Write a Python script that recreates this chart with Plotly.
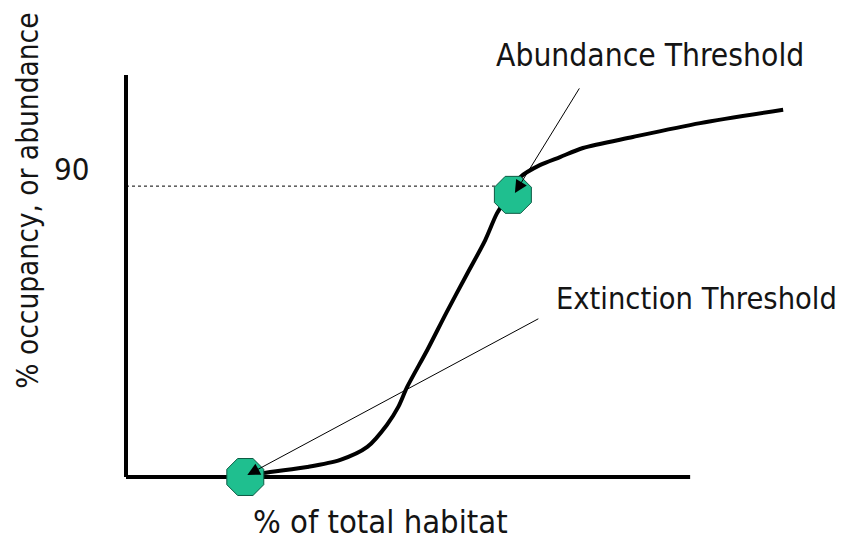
# Threshold diagram
# Figure component
# ----------------------------------------------------------------------------------------------------------------------
# Library
# ----------------------------------------------------------------------------------------------------------------------
import plotly.graph_objects as go

# ----------------------------------------------------------------------------------------------------------------------
# Variables definition
# ----------------------------------------------------------------------------------------------------------------------
# Response curve (% of total habitat vs % occupancy)
habitat = [17.7, 20.3, 26.9, 31.8, 35.8, 38.7, 40.4, 41.7, 44.7, 47.6, 50.6, 53.3, 55.0, 56.8, 58.5, 61.4, 64.4,
           67.8, 75.2, 85.2, 97.5]
occupancy = [0.0, 1.2, 3.1, 5.3, 9.3, 16.1, 21.7, 27.8, 39.3, 51.1, 62.8, 73.3, 81.4, 87.3, 92.8, 96.5, 99.0,
             101.8, 105.2, 109.5, 113.6]

# Threshold points
threshold_names = ['Extinction Threshold', 'Abundance Threshold']
threshold_x = [17.7, 57.4]
threshold_y = [0.0, 87.3]

# Arrow tails (where the pointer lines start)
arrow_tail_x = [61.4, 67.4]
arrow_tail_y = [49.2, 120.7]

# Reference level
level_value = 90
level_label = '90'

x_label = '% of total habitat'
y_label = '% occupancy, or abundance'

font_family = 'DejaVu Sans Condensed, Liberation Sans, Arial, sans-serif'
font_color = '#141414'
marker_color = '#1fbf8f'


# ----------------------------------------------------------------------------------------------------------------------
# Figure
# ----------------------------------------------------------------------------------------------------------------------
fig = go.Figure()

# Main curve
fig.add_trace(go.Scatter(x=habitat, y=occupancy, mode='lines',
                         line=dict(color='black', width=4, shape='spline', smoothing=0.8),
                         hoverinfo='skip', showlegend=False))

# Threshold markers
fig.add_trace(go.Scatter(x=threshold_x, y=threshold_y, mode='markers', text=threshold_names,
                         marker=dict(symbol='octagon', size=40, color=marker_color,
                                     line=dict(color='#0d5a43', width=1)),
                         cliponaxis=False, showlegend=False))

# Axis lines (drawn by hand because the x axis stops short)
fig.add_shape(type='line', xref='paper', yref='paper', x0=0, x1=0, y0=0, y1=0.995,
              line=dict(color='black', width=4), layer='below')
fig.add_shape(type='line', xref='paper', yref='paper', x0=0, x1=0.837, y0=0, y1=0,
              line=dict(color='black', width=4), layer='below')

# Dotted level line
fig.add_shape(type='line', xref='paper', yref='y', x0=0, x1=0.55, y0=level_value, y1=level_value,
              line=dict(color='black', width=1, dash='dot'), layer='below')

# Pointer arrows
for i, name in enumerate(threshold_names):
    fig.add_annotation(x=threshold_x[i] + 0.3, y=threshold_y[i] + 0.6, ax=arrow_tail_x[i], ay=arrow_tail_y[i],
                       axref='x', ayref='y', text='', showarrow=True,
                       arrowhead=2, arrowsize=2.5, arrowwidth=1, arrowcolor='black', standoff=0)

# Texts
fig.add_annotation(xref='paper', yref='paper', x=0.546, y=1.044, xanchor='left', yanchor='middle',
                   text=threshold_names[1], font_size=31.5, showarrow=False)
fig.add_annotation(xref='paper', yref='paper', x=0.635, y=0.443, xanchor='left', yanchor='middle',
                   text=threshold_names[0], font_size=30.5, showarrow=False)
fig.add_annotation(xref='paper', yref='paper', x=-0.052, y=0.762, xanchor='right', yanchor='middle',
                   text=level_label, font_size=31, showarrow=False)
fig.add_annotation(xref='paper', yref='paper', x=0.377, y=-0.112, xanchor='center', yanchor='middle',
                   text=x_label, font_size=32.5, showarrow=False)
fig.add_annotation(xref='paper', yref='paper', x=-0.146, y=0.683, xanchor='center', yanchor='middle',
                   text=y_label, textangle=-90, font_size=29.5, showarrow=False)

# Layout (page body adds 8px, so the figure is a bit smaller than the window)
fig.update_layout(width=838, height=534, margin=dict(l=118, r=46, t=65, b=65),
                  plot_bgcolor='white', paper_bgcolor='white',
                  font=dict(family=font_family, size=30, color=font_color))

fig.update_xaxes(range=[0, 100], showgrid=False, zeroline=False, showline=False, showticklabels=False, ticks='')
fig.update_yaxes(range=[0, 125], showgrid=False, zeroline=False, showline=False, showticklabels=False, ticks='')

fig.write_html("out.html")
